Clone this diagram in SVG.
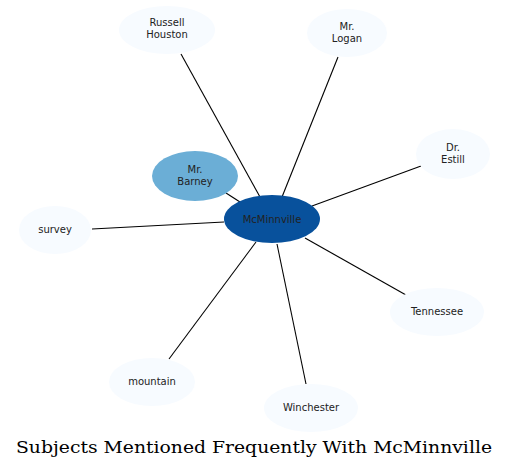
<svg xmlns="http://www.w3.org/2000/svg" width="509" height="469" viewBox="0 0 509 469">
<style>
.n{fill:#f7fbff}
.t{font-family:"DejaVu Sans",sans-serif;font-size:10px;fill:#222;text-anchor:middle}
.e line{stroke:#000;stroke-width:1.1}
.title{font-family:"DejaVu Serif",serif;font-size:17px;fill:#000;text-anchor:middle}
</style>
<rect width="509" height="469" fill="#fff"/>
<g id="edges" class="e">
<line x1="181" y1="54" x2="260" y2="197"/>
<line x1="338" y1="57" x2="282" y2="197"/>
<line x1="421" y1="166" x2="312" y2="206"/>
<line x1="92" y1="229" x2="224" y2="222"/>
<line x1="226" y1="193" x2="240" y2="202"/>
<line x1="406" y1="295" x2="305" y2="238"/>
<line x1="306" y1="384" x2="277" y2="244"/>
<line x1="169" y1="359" x2="256" y2="242"/>
</g>
<g id="russell"><ellipse class="n" cx="167" cy="30" rx="48" ry="24"/><text class="t" x="167" y="26">Russell</text><text class="t" x="167" y="38">Houston</text></g>
<g id="logan"><ellipse class="n" cx="347" cy="33" rx="40" ry="24"/><text class="t" x="347" y="30">Mr.</text><text class="t" x="347" y="42">Logan</text></g>
<g id="estill"><ellipse class="n" cx="453" cy="154" rx="37" ry="25"/><text class="t" x="453" y="151">Dr.</text><text class="t" x="453" y="163">Estill</text></g>
<g id="barney"><ellipse cx="195" cy="176" rx="43" ry="25" fill="#6baed6"/><text class="t" x="195" y="173">Mr.</text><text class="t" x="195" y="185">Barney</text></g>
<g id="survey"><ellipse class="n" cx="55" cy="230" rx="36" ry="24"/><text class="t" x="55" y="233">survey</text></g>
<g id="mcminnville"><ellipse cx="272" cy="219" rx="48" ry="24" fill="#08519c"/><text class="t" x="272" y="223">McMinnville</text></g>
<g id="tennessee"><ellipse class="n" cx="437" cy="312" rx="47" ry="24"/><text class="t" x="437" y="315">Tennessee</text></g>
<g id="mountain"><ellipse class="n" cx="152" cy="382" rx="43" ry="24"/><text class="t" x="152" y="385">mountain</text></g>
<g id="winchester"><ellipse class="n" cx="311" cy="408" rx="47" ry="24"/><text class="t" x="311" y="411">Winchester</text></g>
<text class="title" x="254" y="453" textLength="476" lengthAdjust="spacingAndGlyphs">Subjects Mentioned Frequently With McMinnville</text>
</svg>
